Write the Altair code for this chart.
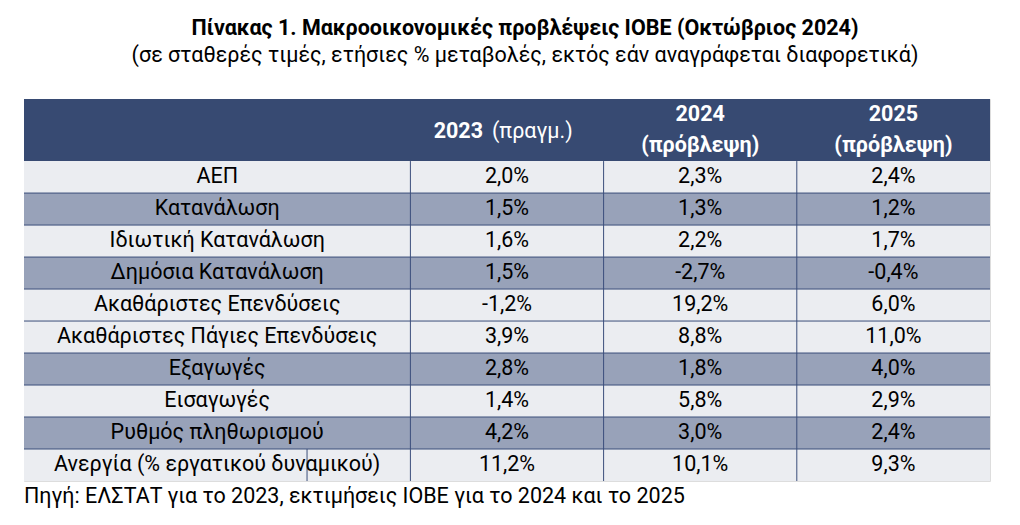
import altair as alt
import pandas as pd

# ---- data ----
labels = ["ΑΕΠ", "Κατανάλωση", "Ιδιωτική Κατανάλωση", "Δημόσια Κατανάλωση",
          "Ακαθάριστες Επενδύσεις", "Ακαθάριστες Πάγιες Επενδύσεις", "Εξαγωγές",
          "Εισαγωγές", "Ρυθμός πληθωρισμού", "Ανεργία (% εργατικού δυναμικού)"]
v2023 = [2.0, 1.5, 1.6, 1.5, -1.2, 3.9, 2.8, 1.4, 4.2, 11.2]
v2024 = [2.3, 1.3, 2.2, -2.7, 19.2, 8.8, 1.8, 5.8, 3.0, 10.1]
v2025 = [2.4, 1.2, 1.7, -0.4, 6.0, 11.0, 4.0, 2.9, 2.4, 9.3]
shade = ["light", "dark", "light", "dark", "light", "light", "dark", "light", "dark", "light"]
years = ["2023", "2024", "2025"]
year_notes = ["(πραγμ.)", "(πρόβλεψη)", "(πρόβλεψη)"]
title = "Πίνακας 1. Μακροοικονομικές προβλέψεις ΙΟΒΕ (Οκτώβριος 2024)"
subtitle = "(σε σταθερές τιμές, ετήσιες % μεταβολές, εκτός εάν αναγράφεται διαφορετικά)"
source = "Πηγή: ΕΛΣΤΑΤ για το 2023, εκτιμήσεις ΙΟΒΕ για το 2024 και το 2025"

# table geometry in table units (1 unit = one value column / one row)
H = 1.94            # header height in row units
N = len(labels)
col_edges = [0, 2, 3, 4, 5]

FONT = "Roboto"
FS = 21.5
HEAD = "#374a72"
DARK = "#98a2b9"
LIGHT = "#ebedf1"
LINE = "#3b4e7b"

def fmt(v):
    return f"{v:.1f}".replace(".", ",") + "%"

rows_df = pd.DataFrame({
    "label": labels,
    "shade": shade,
    "top": [H + i for i in range(N)],
    "bot": [H + i + 1 for i in range(N)],
    "mid": [H + i + 0.5 for i in range(N)],
    "x0": col_edges[0], "x1": col_edges[-1],
    "lx": (col_edges[0] + col_edges[1]) / 2,
})

vals = []
for i in range(N):
    for j, arr in enumerate([v2023, v2024, v2025]):
        vals.append({"mid": H + i + 0.5, "cx": (col_edges[j + 1] + col_edges[j + 2]) / 2,
                     "txt": fmt(arr[i])})
vals_df = pd.DataFrame(vals)

head_df = pd.DataFrame({"x0": [col_edges[0]], "x1": [col_edges[-1]], "top": [0], "bot": [H]})

hlines = pd.DataFrame({"x0": col_edges[0], "x1": col_edges[-1],
                       "y": [H + i for i in range(1, N)]})
vlines = pd.DataFrame({"x": col_edges[1:4] + [1.465],
                       "y0": [H, H, H, H + N - 1], "y1": [H + N] * 4})

yr_df = pd.DataFrame({
    "cx": [(col_edges[j + 1] + col_edges[j + 2]) / 2 for j in range(3)],
    "year": years, "note": year_notes,
    "mid": [H / 2] * 3,
})

xs = alt.Scale(domain=[0, 5], nice=False, zero=False)
ys = alt.Scale(domain=[0, H + N], nice=False, zero=False, reverse=True)

header = alt.Chart(head_df).mark_rect(color=HEAD).encode(
    x=alt.X("x0:Q", scale=xs, axis=None), x2="x1:Q",
    y=alt.Y("top:Q", scale=ys, axis=None), y2="bot:Q")

cells = alt.Chart(rows_df).mark_rect().encode(
    x=alt.X("x0:Q", scale=xs, axis=None), x2="x1:Q",
    y=alt.Y("top:Q", scale=ys, axis=None), y2="bot:Q",
    fill=alt.Fill("shade:N", scale=alt.Scale(domain=["light", "dark"], range=[LIGHT, DARK]),
                  legend=None))

hl = alt.Chart(hlines).mark_rule(color=LINE, strokeWidth=1).encode(
    x=alt.X("x0:Q", scale=xs, axis=None), x2="x1:Q",
    y=alt.Y("y:Q", scale=ys, axis=None))
vl = alt.Chart(vlines).mark_rule(color=LINE, strokeWidth=1).encode(
    x=alt.X("x:Q", scale=xs, axis=None),
    y=alt.Y("y0:Q", scale=ys, axis=None), y2="y1:Q")

lab = alt.Chart(rows_df).mark_text(font=FONT, fontSize=FS, color="#000000",
                                   baseline="middle", align="center").encode(
    x=alt.X("lx:Q", scale=xs, axis=None),
    y=alt.Y("mid:Q", scale=ys, axis=None), text="label:N")

vtx = alt.Chart(vals_df).mark_text(font=FONT, fontSize=FS, color="#000000",
                                   baseline="middle", align="center").encode(
    x=alt.X("cx:Q", scale=xs, axis=None),
    y=alt.Y("mid:Q", scale=ys, axis=None), text="txt:N")

y0 = yr_df.iloc[[0]]
y12 = yr_df.iloc[1:]
h_year0 = alt.Chart(y0).mark_text(font=FONT, fontSize=FS, fontWeight="bold", color="white",
                                  baseline="middle", align="right", dx=-24, dy=2).encode(
    x=alt.X("cx:Q", scale=xs, axis=None), y=alt.Y("mid:Q", scale=ys, axis=None), text="year:N")
h_note0 = alt.Chart(y0).mark_text(font=FONT, fontSize=FS, color="white",
                                  baseline="middle", align="left", dx=-15, dy=2).encode(
    x=alt.X("cx:Q", scale=xs, axis=None), y=alt.Y("mid:Q", scale=ys, axis=None), text="note:N")
h_year12 = alt.Chart(y12).mark_text(font=FONT, fontSize=FS, fontWeight="bold", color="white",
                                    baseline="middle", align="center", dy=-15).encode(
    x=alt.X("cx:Q", scale=xs, axis=None), y=alt.Y("mid:Q", scale=ys, axis=None), text="year:N")
h_note12 = alt.Chart(y12).mark_text(font=FONT, fontSize=FS, fontWeight="bold", color="white",
                                    baseline="middle", align="center", dy=16).encode(
    x=alt.X("cx:Q", scale=xs, axis=None), y=alt.Y("mid:Q", scale=ys, axis=None), text="note:N")

src_df = pd.DataFrame({"x": [col_edges[0]], "y": [H + N + 0.5], "t": [source]})
src = alt.Chart(src_df).mark_text(font=FONT, fontSize=FS, color="#000000",
                                  baseline="middle", align="left").encode(
    x=alt.X("x:Q", scale=xs, axis=None), y=alt.Y("y:Q", scale=ys, axis=None), text="t:N")

chart = alt.layer(header, cells, hl, vl, lab, vtx, h_year0, h_note0, h_year12, h_note12, src).properties(
    width=966, height=382,
    title=alt.TitleParams(text=title, subtitle=subtitle, anchor="middle", dx=18,
                          font=FONT, fontSize=21.5, fontWeight="bold", color="#000000",
                          subtitleFont=FONT, subtitleFontSize=21.5, subtitleColor="#000000",
                          subtitlePadding=5, offset=33),
    autosize=alt.AutoSizeParams(type="none"),
    padding={"left": 16, "top": 91, "right": 22, "bottom": 30},
).configure_view(stroke=None).configure(background="white")

chart.save("out.html", embed_options={"renderer": "svg", "actions": False})
